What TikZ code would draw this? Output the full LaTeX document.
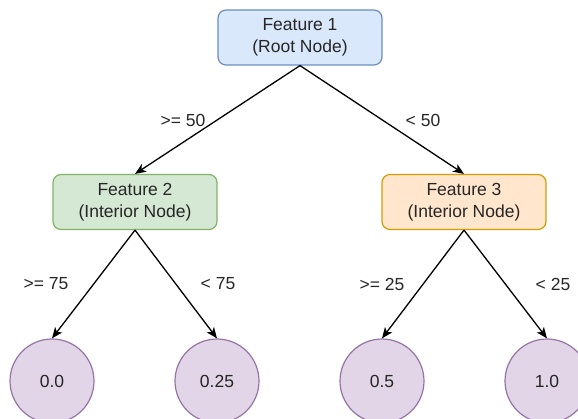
\documentclass[tikz,border=0pt]{standalone}
\usepackage{fontspec}
\setmainfont{Liberation Sans}
\usetikzlibrary{arrows.meta}
\definecolor{bluefill}{HTML}{DAE8FC}\definecolor{bluedraw}{HTML}{6C8EBF}
\definecolor{greenfill}{HTML}{D5E8D4}\definecolor{greendraw}{HTML}{82B366}
\definecolor{orangefill}{HTML}{FFE6CC}\definecolor{orangedraw}{HTML}{D79B00}
\definecolor{purplefill}{HTML}{E1D5E7}\definecolor{purpledraw}{HTML}{9673A6}
\tikzset{
  every node/.style={font=\fontsize{17.5}{21.5}\selectfont, text=black!85},
  featbox/.style={rectangle, rounded corners=8pt, line width=1.2pt,
    minimum width=164pt, minimum height=55pt, align=center, inner sep=0pt},
  leaf/.style={circle, line width=1.2pt, draw=purpledraw, fill=purplefill,
    minimum size=84pt, inner sep=0pt},
  branch/.style={line width=1.3pt, -{Stealth[length=11pt,width=9pt,inset=3pt]}},
  cond/.style={inner sep=0pt}
}
\begin{document}
\begin{tikzpicture}[x=1pt,y=-1pt]
\useasboundingbox (0,0) rectangle (578,419);
\node[featbox, draw=bluedraw, fill=bluefill] (root) at (300,37.5) {Feature 1\\(Root Node)};
\node[featbox, draw=greendraw, fill=greenfill] (f2) at (135,202) {Feature 2\\(Interior Node)};
\node[featbox, draw=orangedraw, fill=orangefill] (f3) at (464,202) {Feature 3\\(Interior Node)};
\node[leaf] (l1) at (52,381) {0.0};
\node[leaf] (l2) at (217,381) {0.25};
\node[leaf] (l3) at (382,381) {0.5};
\node[leaf] (l4) at (547,381) {1.0};
\draw[branch] (root.south) -- (f2.north);
\draw[branch] (root.south) -- (f3.north);
\draw[branch] (f2.south) -- (l1.north);
\draw[branch] (f2.south) -- (l2.north);
\draw[branch] (f3.south) -- (l3.north);
\draw[branch] (f3.south) -- (l4.north);
\node[cond] (c1) at (183,120) {>= 50};
\node[cond] (c2) at (423,120) {< 50};
\node[cond] (c3) at (46,284) {>= 75};
\node[cond] (c4) at (218,284) {< 75};
\node[cond] (c5) at (382,284) {>= 25};
\node[cond] (c6) at (553,284) {< 25};
\end{tikzpicture}
\end{document}
